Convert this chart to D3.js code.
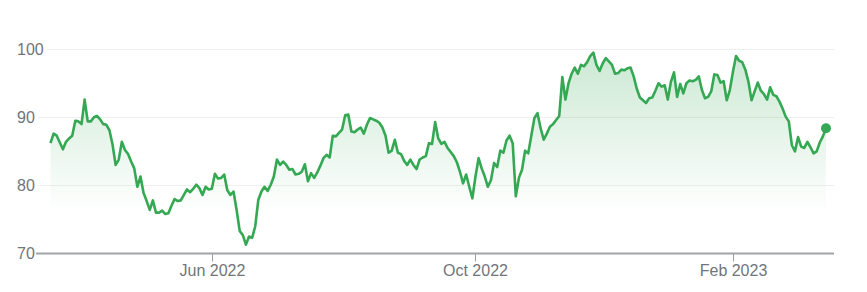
<!doctype html>
<html>
<head>
    <meta charset="utf-8">
    <title>Price chart</title>
    <style>
        body { margin: 0; background: #fff; }
        svg { display: block; }
        text { font-family: "Liberation Sans", Arial, sans-serif; fill: #70757a; }
    </style>
    <script src="https://d3js.org/d3.v7.min.js"></script>
</head>
<body>
<svg width="867" height="292"></svg>
<script>
    // closing price per trading session
    var price = [
        86.2, 87.6, 87.3, 86.3, 85.3, 86.4, 86.9, 87.3, 89.5, 89.4,
        89.0, 92.6, 89.4, 89.4, 90.0, 90.2, 89.7, 89.0, 88.9, 88.1,
        86.0, 83.0, 83.8, 86.4, 85.2, 84.6, 83.5, 82.5, 79.8, 81.3,
        78.9, 77.7, 76.4, 77.8, 76.0, 76.0, 76.3, 75.8, 75.9, 77.0,
        78.0, 77.7, 77.8, 78.6, 79.4, 79.0, 79.5, 80.1, 79.6, 78.6,
        79.8, 79.4, 79.5, 81.7, 81.0, 81.1, 81.6, 79.3, 78.6, 79.1,
        76.4, 73.3, 72.7, 71.3, 72.5, 72.3, 74.0, 77.9, 79.1, 79.8,
        79.2, 80.1, 81.3, 83.8, 83.0, 83.5, 83.0, 82.3, 82.4, 81.6,
        81.7, 82.0, 83.1, 80.6, 81.8, 81.1, 81.9, 82.9, 84.0, 84.5,
        84.1, 87.3, 87.2, 87.7, 88.2, 90.3, 90.4, 87.9, 87.8, 88.2,
        88.5, 87.6, 88.9, 89.9, 89.7, 89.5, 89.2, 88.5, 87.3, 84.8,
        85.1, 86.7, 84.8, 84.6, 83.6, 83.0, 83.8, 83.0, 82.4, 83.8,
        84.1, 84.3, 86.2, 86.1, 89.3, 86.9, 86.1, 86.4, 85.5, 84.9,
        84.3, 83.4, 82.0, 80.3, 81.6, 79.8, 78.1, 81.3, 84.0, 82.5,
        81.3, 79.8, 80.8, 83.3, 82.7, 85.1, 84.8, 86.6, 87.3, 86.2,
        78.4, 81.1, 82.3, 85.1, 84.7, 87.3, 89.9, 90.6, 88.4, 86.7,
        87.6, 88.6, 89.0, 89.6, 90.2, 95.9, 92.6, 95.0, 96.4, 97.3,
        96.4, 97.7, 97.5, 98.1, 99.0, 99.5, 97.7, 96.8, 97.9, 98.7,
        98.2, 97.7, 96.4, 96.5, 97.0, 96.9, 97.2, 97.3, 96.0, 94.2,
        92.9, 92.5, 92.1, 92.8, 92.9, 93.9, 95.0, 94.5, 94.7, 92.6,
        95.2, 96.6, 93.0, 94.9, 93.5, 95.0, 95.4, 95.3, 95.5, 96.0,
        94.0, 92.8, 93.0, 93.8, 96.3, 96.2, 95.1, 95.3, 92.5, 94.0,
        96.7, 99.0, 98.3, 98.1, 97.0, 95.2, 92.5, 93.8, 95.1, 93.9,
        93.4, 92.6, 94.4, 93.3, 93.1, 92.3, 91.3, 90.1, 89.4, 85.9,
        85.0, 87.1, 85.7, 85.5, 86.4, 85.6, 84.7, 85.0, 86.3, 87.2,
        88.4
    ];

    var yTicks = [70, 80, 90, 100];
    var xTickLabels = ["Jun 2022", "Oct 2022", "Feb 2023"];
    var xTickSessions = [52, 137, 220];

    var green = "#34a853";
    var svg = d3.select("svg");

    var x = d3.scaleLinear().domain([0, price.length - 1]).range([50.5, 826]);
    var y = d3.scaleLinear().domain([70, 100]).range([253.5, 49.2]);

    // gradient under the line
    var grad = svg.append("defs").append("linearGradient")
        .attr("id", "fade")
        .attr("gradientUnits", "userSpaceOnUse")
        .attr("x1", 0).attr("x2", 0)
        .attr("y1", y(99)).attr("y2", y(76));
    grad.append("stop").attr("offset", 0).attr("stop-color", green).attr("stop-opacity", 0.25);
    grad.append("stop").attr("offset", 1).attr("stop-color", green).attr("stop-opacity", 0);

    // y labels + gridlines
    var yl = svg.append("g");
    yTicks.forEach(function(t) {
        var lab = yl.append("text")
            .attr("x", 17)
            .attr("y", y(t))
            .attr("dy", "0.35em")
            .style("font-size", "16px")
            .text(t);
        var end = 17 + lab.node().getComputedTextLength();
        if (t === 70) return;
        yl.append("line")
            .attr("x1", end + 3).attr("x2", 834)
            .attr("y1", Math.round(y(t)) + 0.5).attr("y2", Math.round(y(t)) + 0.5)
            .attr("stroke", "#efefef")
            .attr("stroke-width", 1);
    });

    var area = d3.area()
        .x(function(d, i) { return x(i); })
        .y0(y(70))
        .y1(function(d) { return y(d); });

    svg.append("path")
        .datum(price)
        .attr("d", area)
        .attr("fill", "url(#fade)");

    // x axis
    svg.append("line")
        .attr("x1", 36).attr("x2", 834)
        .attr("y1", y(70)).attr("y2", y(70))
        .attr("stroke", "#a0a4a8")
        .attr("stroke-width", 2);

    var xt = svg.append("g").selectAll("g")
        .data(xTickSessions)
        .enter().append("g")
        .attr("transform", function(d) { return "translate(" + Math.round(x(d)) + ".5,0)"; });
    xt.append("line")
        .attr("y1", y(70)).attr("y2", y(70) + 8)
        .attr("stroke", "#9aa0a6")
        .attr("stroke-width", 1);
    xt.append("text")
        .attr("y", 276)
        .attr("text-anchor", "middle")
        .style("font-size", "16px")
        .text(function(d, i) { return xTickLabels[i]; });

    var line = d3.line()
        .x(function(d, i) { return x(i); })
        .y(function(d) { return y(d); });

    svg.append("path")
        .datum(price)
        .attr("d", line)
        .attr("fill", "none")
        .attr("stroke", green)
        .attr("stroke-width", 2.6)
        .attr("stroke-linejoin", "round");

    svg.append("circle")
        .attr("cx", x(price.length - 1))
        .attr("cy", y(price[price.length - 1]))
        .attr("r", 5)
        .attr("fill", green);
</script>
</body>
</html>
